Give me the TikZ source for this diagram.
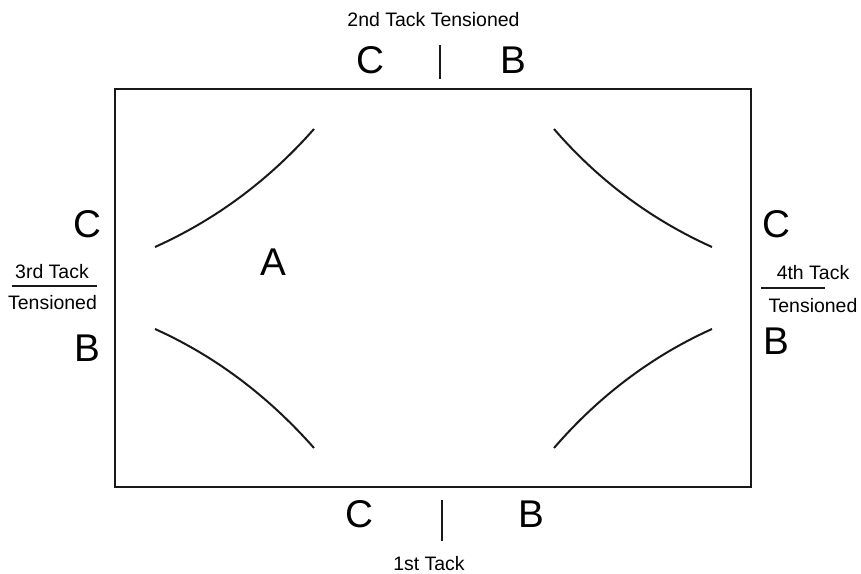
\documentclass[tikz,border=0pt]{standalone}
\usepackage{fontspec}
\setmainfont{Liberation Sans}
\begin{document}
\begin{tikzpicture}[x=0.75pt,y=-0.75pt,
  big/.style={font=\fontsize{29}{30}\selectfont, inner sep=0pt},
  small/.style={font=\fontsize{14.6}{16}\selectfont, inner sep=0pt},
  frame/.style={line width=1.9pt, draw=black!90},
  arc/.style={line width=1.5pt, draw=black!90},
  tick/.style={line width=1.3pt, draw=black!90}]
\useasboundingbox (0,0) rectangle (861,574);
% frame
\draw[frame] (115,89) rectangle (751,487);
% curves
\coordinate (tl1) at (155,247); \coordinate (tl2) at (314,129);
\coordinate (bl1) at (155,329); \coordinate (bl2) at (314,448);
\coordinate (tr1) at (712,247); \coordinate (tr2) at (554,129);
\coordinate (br1) at (712,329); \coordinate (br2) at (554,448);
\draw[arc] (tl1) .. controls (215.7,219.7) and (268.7,180.3) .. (tl2);
\draw[arc] (bl1) .. controls (215.7,356.3) and (268.7,396.7) .. (bl2);
\draw[arc] (tr1) .. controls (651.3,219.7) and (598.3,180.3) .. (tr2);
\draw[arc] (br1) .. controls (651.3,356.3) and (598.3,396.7) .. (br2);
% top
\node[small] (t2) at (433.5,19.5) {2nd Tack Tensioned};
\node[big] (tc) at (370,60) {C};
\node[big] (tb) at (513.5,60) {B};
\coordinate (tt1) at (440,45); \coordinate (tt2) at (440,79);
\draw[tick] (tt1) -- (tt2);
% bottom
\node[big] (bc) at (359,514) {C};
\node[big] (bb) at (531,514) {B};
\coordinate (bt1) at (442,500); \coordinate (bt2) at (442,541);
\draw[tick] (bt1) -- (bt2);
\node[small] (t1) at (429,564) {1st Tack};
% left
\node[big] (lc) at (87,224) {C};
\node[big] (lb) at (87,348) {B};
\node[small] (l3) at (52,271.5) {3rd Tack};
\node[small] (l3b) at (52.5,303) {Tensioned};
\coordinate (ll1) at (12,286); \coordinate (ll2) at (97,286);
\draw[tick] (ll1) -- (ll2);
% right
\node[big] (rc) at (776,224) {C};
\node[big] (rb) at (776,341) {B};
\node[small] (r4) at (813,273) {4th Tack};
\node[small] (r4b) at (813,305.5) {Tensioned};
\coordinate (rl1) at (761,288); \coordinate (rl2) at (825,288);
\draw[tick] (rl1) -- (rl2);
% A
\node[big] (a) at (273,262) {A};
\end{tikzpicture}
\end{document}
